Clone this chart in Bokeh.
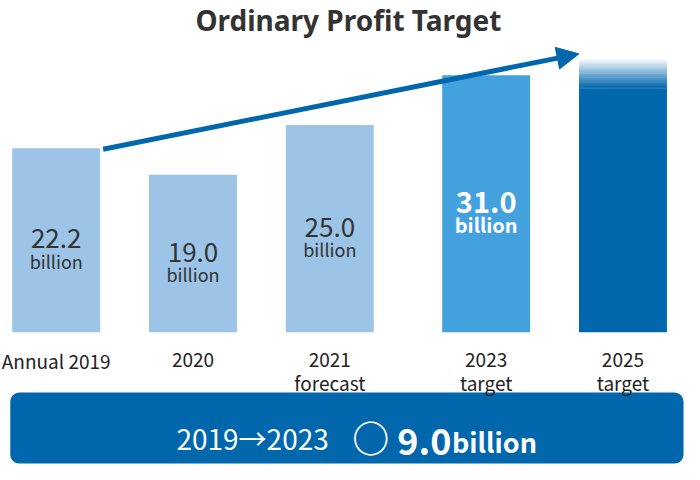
from bokeh.plotting import figure
from bokeh.models import Range1d, ColumnDataSource, BoxAnnotation, Arrow, NormalHead
from bokeh.core.properties import value
from bokeh.embed import file_html
from bokeh.resources import INLINE

# ---------------- data ----------------
categories = ["Annual 2019", "2020", "2021", "2023", "2025"]
sublabels = ["", "", "forecast", "target", "target"]
profits = [22.2, 19.0, 25.0, 31.0, 33.0]          # 2025 bar height estimated (no label)
value_labels = ["22.2", "19.0", "25.0", "31.0"]
unit_label = "billion"
title_text = "Ordinary Profit Target"
banner_period = "2019\u21922023"
banner_mark = "\u25cb"
banner_value = "9.0"
banner_unit = "billion"

# ---------------- style / layout ----------------
LIGHT = "#9cc4e6"
MID = "#43a1de"
DARK = "#0067ad"
DARK_RGB = (0x00, 0x67, 0xad)
TEXT = "#333333"
FONT = "Noto Sans CJK JP"

W, H = 684, 464
S = 8.52          # reference px per unit
SLOT = 140        # reference px per slot
x_pos = [0, 1, 2, 3.143, 4.143]
BAR_W = 90 / SLOT


def X(rx):
    return (rx - 57) / SLOT


def Y(ry):
    return (343 - ry) / S


def blend(t):
    # t=1 -> dark, t=0 -> white
    r, g, b = [round(255 + (c - 255) * t) for c in DARK_RGB]
    return "#%02x%02x%02x" % (r, g, b)


p = figure(width=W, height=H, x_range=Range1d(X(0), X(700)), y_range=Range1d(Y(479), Y(2)),
           output_backend="svg", toolbar_location=None, min_border=0)
p.axis.visible = False
p.grid.visible = False
p.outline_line_color = None
p.background_fill_color = "white"
p.border_fill_color = "white"

# bars (first four)
bar_src = ColumnDataSource(dict(x=x_pos[:4], top=profits[:4], color=[LIGHT, LIGHT, LIGHT, MID]))
p.vbar(x="x", top="top", bottom=0, width=BAR_W, fill_color="color", line_color=None, source=bar_src)

# 2025 bar with faded top
fade = 3.6
solid_top = profits[4] - fade
p.vbar(x=[x_pos[4]], top=[solid_top + 0.05], bottom=0, width=BAR_W, fill_color=DARK, line_color=None)
N = 36
bots = [solid_top + fade * i / N for i in range(N)]
tops = [solid_top + fade * (i + 1) / N + 0.06 for i in range(N)]
cols = [blend(max(0.0, 1 - ((i + 0.5) / N) ** 1.1)) for i in range(N)]
p.vbar(x=[x_pos[4]] * N, bottom=bots, top=tops, width=BAR_W, fill_color=cols, line_color=None)

# arrow
arrow = Arrow(x_start=x_pos[0] + BAR_W / 2 + 3 / SLOT, y_start=profits[0] - 1 / S,
              x_end=x_pos[4] - BAR_W / 2, y_end=profits[4] + 5 / S,
              line_color=DARK, line_width=5,
              end=NormalHead(size=22, fill_color=DARK, line_color=DARK, line_width=1))
p.add_layout(arrow)

# value labels inside bars
lab_src = ColumnDataSource(dict(
    x=x_pos[:4],
    ynum=[v / 2 + 1.5 / S for v in profits[:4]],
    yunit=[v / 2 - 21 / S for v in profits[:4]],
    num=value_labels,
    unit=[unit_label] * 4,
    color=[TEXT, TEXT, TEXT, "white"],
    nsize=["26px", "26px", "26px", "29px"],
    usize=["18px", "18px", "18px", "20px"],
    style=["normal", "normal", "normal", "bold"],
))
p.text(x="x", y="ynum", text="num", text_color="color", text_font_size="nsize",
       text_font=value(FONT), text_font_style="style", text_align="center",
       text_baseline="alphabetic", source=lab_src)
p.text(x="x", y="yunit", text="unit", text_color="color", text_font_size="usize",
       text_font=value(FONT), text_font_style="style", text_align="center",
       text_baseline="alphabetic", source=lab_src)

# category labels
p.text(x=x_pos, y=[Y(372)] * 5, text=categories, text_color="#222222", text_font_size="19px",
       text_font=value(FONT), text_align="center", text_baseline="alphabetic")
p.text(x=x_pos, y=[Y(395)] * 5, text=sublabels, text_color="#222222", text_font_size="19px",
       text_font=value(FONT), text_align="center", text_baseline="alphabetic")

# title
p.text(x=[X(356)], y=[Y(22)], text=[title_text], text_color=TEXT, text_font_size="28px",
       text_font=value("Noto Sans"), text_font_style="bold", text_align="center",
       text_baseline="alphabetic")

# banner
banner = BoxAnnotation(left=X(10), right=X(699), top=Y(405), bottom=Y(478),
                       fill_color=DARK, fill_alpha=1, line_color=None,
                       border_radius=9, level="underlay")
p.add_layout(banner)
p.text(x=[X(258)], y=[Y(452)], text=[banner_period], text_color="white", text_font_size="28px",
       text_font=value(FONT), text_align="center", text_baseline="alphabetic")
p.text(x=[X(379)], y=[Y(451)], text=[banner_mark], text_color="white", text_font_size="37px",
       text_font=value(FONT), text_font_style="bold", text_align="center",
       text_baseline="middle")
p.text(x=[X(406)], y=[Y(455)], text=[banner_value], text_color="white", text_font_size="36px",
       text_font=value(FONT), text_font_style="bold", text_align="left", text_baseline="alphabetic")
p.text(x=[X(462)], y=[Y(455)], text=[banner_unit], text_color="white", text_font_size="27px",
       text_font=value(FONT), text_font_style="bold", text_align="left", text_baseline="alphabetic")

open("out.html", "w").write(file_html(p, INLINE))
